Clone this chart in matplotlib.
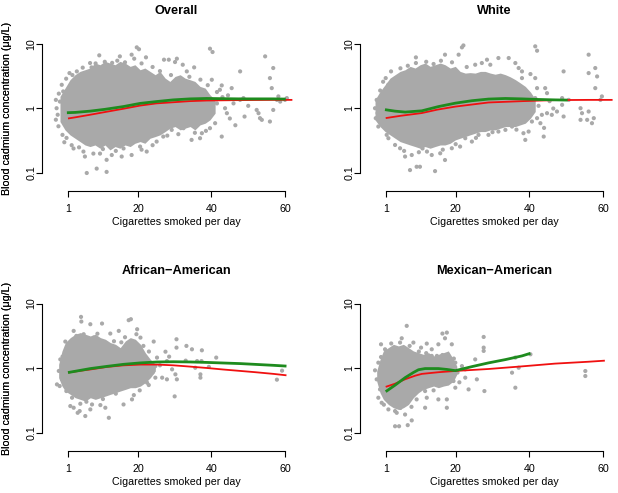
import matplotlib
matplotlib.use("Agg")
import matplotlib.pyplot as plt

plt.rcParams['font.family'] = ['Liberation Sans', 'DejaVu Sans']

# ---------------- data ----------------
panel_titles = ["Overall", "White", "African\u2212American", "Mexican\u2212American"]
x_label = "Cigarettes smoked per day"
y_label = "Blood cadmium concentration (\u03bcg/L)"
x_ticks = [1, 20, 40, 60]
y_ticks = [0.1, 1, 10]
y_tick_labels = ["0.1", "1", "10"]

# dense core of each point cloud (x, lower edge, upper edge)
overall_core_x = [-1.18, 0.18, 1.54, 2.9, 4.26, 5.62, 6.98, 8.34, 9.7, 11.06, 12.4, 13.8, 15.1, 16.5, 17.9, 19.2,
                  20.6, 21.9, 23.3, 24.7, 26.0, 27.4, 28.7, 30.1, 31.5, 32.8, 34.2, 35.5, 36.9, 38.3, 39.6, 41.0]
overall_core_hi = [1.54, 2.07, 2.79, 3.34, 3.76, 3.99, 4.24, 5.07, 4.77, 5.38, 5.07, 4.77, 5.38, 5.07, 4.5, 4.77,
                   3.99, 4.24, 3.76, 3.34, 3.76, 2.96, 2.63, 3.14, 3.34, 2.96, 2.79, 2.63, 2.2, 2.07, 1.63, 1.36]
overall_core_lo = [0.628, 0.466, 0.39, 0.346, 0.307, 0.272, 0.257, 0.272, 0.242, 0.272, 0.228, 0.257, 0.242, 0.272,
                   0.257, 0.289, 0.307, 0.289, 0.346, 0.367, 0.39, 0.439, 0.495, 0.525, 0.466, 0.495, 0.525, 0.466,
                   0.557, 0.592, 0.667, 0.846]

white_core_x = [-1.9, -0.54, 0.82, 2.18, 3.54, 4.9, 6.26, 7.62, 8.98, 10.34, 11.7, 13.06, 14.4, 15.8, 17.1, 18.5,
                19.9, 21.2, 22.6, 23.9, 25.3, 26.7, 28.0, 29.4, 30.7, 32.1, 33.5, 34.8, 36.2, 37.5, 38.9, 40.3, 41.6]
white_core_hi = [1.36, 1.84, 2.33, 2.96, 3.34, 3.76, 3.99, 4.5, 4.24, 4.77, 5.07, 4.5, 4.77, 5.07, 4.77, 4.24,
                 4.5, 3.76, 3.54, 3.6, 3.54, 3.76, 3.76, 3.54, 3.4, 3.54, 3.34, 3.1, 2.8, 2.5, 2.2, 1.8, 1.4]
white_core_lo = [0.667, 0.525, 0.439, 0.39, 0.346, 0.307, 0.289, 0.272, 0.257, 0.242, 0.257, 0.242, 0.257, 0.272,
                 0.272, 0.289, 0.326, 0.346, 0.367, 0.39, 0.414, 0.439, 0.439, 0.466, 0.466, 0.495, 0.525, 0.525,
                 0.525, 0.557, 0.592, 0.708, 0.898]

aa_core_x = [-1.54, -0.63, 0.27, 1.63, 2.99, 4.35, 5.71, 7.07, 8.43, 9.79, 11.15, 12.5, 13.9, 15.2, 16.6, 17.95,
             19.3, 20.7, 22.0, 23.4, 24.75]
aa_core_hi = [1.14, 1.84, 2.48, 2.96, 3.34, 3.54, 3.34, 3.14, 3.34, 2.96, 2.79, 2.48, 2.33, 2.07, 2.63, 2.96,
              2.79, 2.33, 1.73, 1.36, 1.14]
aa_core_lo = [0.708, 0.525, 0.439, 0.39, 0.346, 0.326, 0.307, 0.346, 0.326, 0.346, 0.367, 0.39, 0.414, 0.439,
              0.466, 0.495, 0.495, 0.525, 0.592, 0.708, 0.898]

ma_core_x = [-1.45, -0.54, 0.37, 1.73, 3.09, 4.45, 5.8, 7.17, 8.5, 9.9, 11.2, 12.6, 14.0, 15.3, 16.7, 18.0, 19.4, 20.3]
ma_core_hi = [0.898, 1.36, 1.84, 2.07, 2.33, 2.2, 2.33, 2.07, 1.84, 1.73, 1.63, 1.73, 1.54, 1.63, 1.73, 1.84, 1.36, 1.07]
ma_core_lo = [0.628, 0.414, 0.326, 0.272, 0.242, 0.228, 0.242, 0.272, 0.346, 0.414, 0.466, 0.495, 0.525, 0.495,
              0.525, 0.544, 0.628, 0.797]

# individual (sparser) points
overall_pts_x = [9.5, 7.0, 7.4, 15.1, 14.4, 18.3, 19.0, 19.7, 20.3, 22.2, 27.1, 28.4, 30.6, 30.1, 32.2, 33.3, 35.3,
                 39.6, 40.3, 40.1, 42.8, 42.3, 45.5, 47.8, 54.6, 56.8, 55.9, 56.4, 3.4, 1.4, -0.7, -0.3, -1.2, -2.3,
                 -2.1, -2.3, -1.6, -0.5, 0.6, 2.0, 2.5, 5.2, 5.6, 7.9, 6.1, 8.8, 11.5, 9.7, 11.5, 12.9, 15.6, 16.1,
                 18.3, 20.6, 22.4, 25.1, 26.9, 29.2, 32.4, 34.6, 36.9, 37.4, 39.6, 41.0, 42.8, 43.7, 44.2, 47.8, 48.7,
                 52.3, 52.8, 53.2, 53.7, 55.9, 56.8, 57.8, 58.2, 58.7, 60.0, 60.5,
                 44.5, 46.0, 45.0, 50.0, 41.5, 43.0, 49.0, 46.5, 38.5, 35.5, 31.0, 28.0, 24.0, 21.0, 14.0, 10.5, 4.0,
                 0.0, -1.8, -1.5, 0.5, 2.2, 5.0, 8.5, 11.0, 13.0, 16.5, 21.0, 24.0, 26.0, 29.0, 34.0, 37.0, 39.0, 41.5]
overall_pts_y = [6.67, 5.07, 4.34, 6.43, 5.51, 6.83, 5.92, 8.87, 8.3, 6.21, 5.71, 5.71, 5.92, 5.25, 4.77, 3.76, 4.34,
                 8.46, 7.51, 2.79, 2.28, 1.95, 2.07, 3.76, 6.43, 4.24, 2.96, 2.07, 3.76, 3.54, 2.33, 1.84, 1.28, 1.36,
                 1.01, 0.67, 0.53, 0.39, 0.35, 0.27, 0.24, 0.215, 0.18, 0.20, 0.10, 0.117, 0.104, 0.20, 0.16, 0.19, 0.18, 0.24,
                 0.19, 0.257, 0.215, 0.307, 0.367, 0.466, 0.495, 0.326, 0.346, 0.414, 0.495, 0.592, 0.367, 1.01, 0.846, 1.36, 1.45,
                 0.95, 0.846, 0.708, 0.667, 0.628, 0.95, 1.36, 1.54, 1.28, 1.36, 1.45,
                 1.6, 1.2, 0.7, 1.1, 1.2, 1.5, 0.75, 0.55, 0.45, 0.42, 0.40, 0.38, 0.27, 0.23, 0.22, 0.235, 0.25,
                 0.30, 0.8, 1.7, 2.9, 3.3, 4.3, 5.0, 5.3, 5.1, 5.2, 5.0, 4.4, 3.8, 3.3, 3.1, 2.8, 2.3, 1.8]

white_pts_x = [21.7, 22.1, 17.1, 20.8, 9.2, 9.2, 2.45, 1.0, 1.7, -1.45, -1.9, -1.7, -1.0, 1.27,
               1.73, 3.54, 4.9, 6.26, 8.07, 7.6, 9.4, 10.3, 14.4, 12.2, 13.5, 15.8, 17.1, 18.95, 21.2, 22.6, 24.4,
               26.2, 28.9, 31.6, 33.5, 35.3, 38.4, 39.8, 38.9, 40.7, 42.1, 43.4, 44.8, 46.1, 47.5, 48.9, 49.3, 43.0,
               43.9, 41.6, 42.1, 44.3, 44.8, 38.0, 40.3, 41.6, 31.6, 34.4, 36.2, 37.1, 38.0, 29.4, 27.1, 25.3, 28.5,
               41.6, 42.1, 49.3, 56.1, 56.1, 57.9, 58.4, 57.9, 59.7, 59.3, 53.9, 54.3, 56.1, 53.9, 55.7, 57.0, 57.5,
               50.7, 48.9,
               5.0, 7.0, 12.0, 14.0, 16.0, 19.0, 23.0, 6.0, 10.0, 11.0, 16.5, 20.0, 25.5, 30.0, 36.5, 42.5, 45.5,
               46.5, 44.0, -0.5, 0.3, -1.2]
white_pts_y = [8.87, 9.5, 6.83, 6.83, 6.2, 5.07, 3.76, 2.96, 2.33, 1.36, 1.01, 0.708, 0.525, 0.39,
               0.346, 0.272, 0.242, 0.18, 0.19, 0.111, 0.125, 0.125, 0.107, 0.215, 0.19, 0.202, 0.159, 0.242, 0.257, 0.346, 0.307,
               0.39, 0.39, 0.439, 0.466, 0.525, 0.414, 0.439, 0.326, 0.628, 0.708, 0.797, 0.846, 0.797, 0.898, 1.14, 0.751, 0.592,
               0.367, 1.45, 2.07, 2.07, 1.73, 2.96, 3.42, 2.96, 6.06, 6.06, 5.07, 4.24, 3.76, 4.77, 5.07, 4.77, 5.71,
               9.2, 7.87, 3.76, 6.83, 3.54, 4.24, 3.14, 2.07, 1.54, 1.36, 1.01, 0.846, 0.898, 0.667, 0.667, 0.592, 0.708,
               1.36, 1.45,
               4.2, 4.6, 5.3, 4.9, 5.5, 5.2, 4.4, 0.22, 0.21, 0.24, 0.23, 0.28, 0.35, 0.43, 0.47, 1.1, 1.3,
               1.0, 0.5, 1.9, 2.6, 0.85]

aa_pts_x = [4.54, 4.63, 7.07, 10.25, 17.5, 18.1, 2.54, 3.27, 5.26, 7.98, 12.5, 14.8, 19.8, 19.6, 20.7, 24.3, 30.5,
            30.5, 33.2, 34.7, 37.4, 41.3, 36.1, 37.3, 27.5, 27.9, 25.2, 24.75, 26.6, 27.9, 29.3, 30.6, 30.2, 35.6,
            37.0, 37.0, 39.3, 30.0, 12.1, 5.7, 3.63, 4.17, 2.54, 1.63, 7.07, 7.53, 4.35, 9.8, 11.15, 16.1, 18.4,
            18.9, 22.5, 22.96, 24.75, -1.27, -2.0, -0.63, -1.09, 0.27, 0.73, 57.8, 59.2, 0.55, 2.1,
            9.0, 13.5, 15.5, 16.5, 21.5, 23.0, 21.0, 26.0, 28.5, 33.0, 24.0, 20.5, 14.0, 10.5, 6.0, -0.5, -1.5]
aa_pts_y = [6.2, 5.25, 4.77, 4.89, 5.51, 5.71, 3.76, 3.14, 3.34, 2.96, 3.42, 3.76, 3.99, 3.34, 2.96, 2.57, 2.79,
            2.07, 2.2, 1.95, 1.88, 1.45, 1.28, 1.28, 1.79, 1.28, 1.45, 0.708, 0.708, 0.667, 0.953, 0.667, 0.797, 1.01,
            0.797, 0.708, 1.04, 0.363, 0.169, 0.18, 0.202, 0.215, 0.242, 0.257, 0.228, 0.272, 0.279, 0.266, 0.242, 0.272, 0.326,
            0.38, 0.592, 0.544, 1.07, 0.525, 0.557, 0.667, 1.36, 2.57, 1.95, 0.659, 0.909, 0.439, 0.346,
            3.4, 2.6, 2.5, 3.0, 2.2, 1.8, 1.4, 1.1, 1.5, 1.3, 0.85, 0.45, 0.40, 0.33, 0.30, 1.5, 0.9]

ma_pts_x = [6.71, 5.35, 4.9, -0.27, 0.82, 8.52, 10.6, 12.15, 13.5, 15.3, 16.4, 17.6, 17.1, 18.95, 14.9, 16.4, 18.0,
            13.5, 27.6, 27.6, 27.6, 25.3, 22.6, 22.6, 19.9, 21.7, 25.75, 27.8, 23.5, 36.2, 35.3, 37.1, 36.2, 40.3,
            55.2, 55.2, -1.0, -0.54, -0.09, 1.73, 3.54, 3.99, 6.26, 3.54, 4.63, 6.98, 8.07, 11.7, 12.15, 17.6, 17.6,
            19.9, 19.4, 15.3, 9.4, 11.7, -1.45, -1.9, -1.0, -0.27,
            2.5, 7.5, 10.0, 12.0, 19.5, 20.5, 21.0, 14.0, 8.0, 5.0, 0.5]
ma_pts_y = [4.5, 2.89, 2.48, 2.33, 1.95, 2.48, 2.07, 2.39, 1.95, 2.33, 3.42, 3.54, 2.89, 2.33, 1.54, 1.59, 1.54,
            1.54, 3.03, 2.07, 1.84, 1.36, 0.953, 0.708, 1.21, 1.07, 0.667, 0.439, 0.466, 0.495, 0.846, 1.01, 1.45, 1.63,
            0.898, 0.751, 0.346, 0.466, 0.289, 0.228, 0.215, 0.202, 0.19, 0.125, 0.125, 0.13, 0.154, 0.242, 0.346, 0.242, 0.326,
            0.495, 0.628, 0.326, 0.326, 0.439, 0.667, 0.92, 1.21, 1.48,
            2.4, 2.2, 1.8, 1.7, 1.4, 0.85, 0.6, 0.45, 0.25, 0.24, 0.27]

# fitted curves
overall_red_x = [1, 3, 7, 11, 16, 20.6, 25, 29.6, 34, 38.7, 48, 57, 62]
overall_red_y = [0.70, 0.73, 0.80, 0.88, 0.99, 1.11, 1.20, 1.25, 1.30, 1.33, 1.35, 1.36, 1.36]
overall_green_x = [0.7, 3, 7, 11, 16, 20.6, 25, 29.6, 34.2, 38.7, 47.8, 56.8, 60.2]
overall_green_y = [0.86, 0.87, 0.91, 0.97, 1.07, 1.20, 1.28, 1.36, 1.41, 1.43, 1.41, 1.41, 1.40]

white_red_x = [1, 5, 10.8, 15, 19.9, 28.9, 38, 47, 56, 62.6]
white_red_y = [0.71, 0.77, 0.85, 0.96, 1.07, 1.24, 1.30, 1.35, 1.36, 1.36]
white_green_x = [0.8, 3.5, 6.3, 10.8, 15.3, 19.9, 24.4, 28.9, 33.5, 38, 42.5, 47, 50.4]
white_green_y = [0.96, 0.91, 0.88, 0.92, 1.07, 1.21, 1.32, 1.40, 1.43, 1.41, 1.38, 1.36, 1.35]

aa_red_x = [1, 4, 7.1, 11.6, 16.1, 20.7, 25.2, 29.7, 34.3, 38.8, 43, 47.9, 52, 56.9, 60.4]
aa_red_y = [0.85, 0.90, 0.95, 1.04, 1.10, 1.13, 1.13, 1.10, 1.05, 1.00, 0.95, 0.90, 0.86, 0.81, 0.77]
aa_green_x = [1, 7.1, 11.6, 16.1, 20.7, 25.2, 29.7, 34.3, 38.8, 47.9, 56.9, 60.4]
aa_green_y = [0.85, 0.98, 1.06, 1.14, 1.20, 1.24, 1.25, 1.24, 1.22, 1.17, 1.10, 1.07]

ma_red_x = [1, 3.5, 6.3, 9.0, 10.8, 15.3, 19.9, 28.9, 38, 47, 56, 60.5]
ma_red_y = [0.51, 0.57, 0.67, 0.76, 0.81, 0.86, 0.90, 0.965, 1.06, 1.17, 1.25, 1.30]
ma_green_x = [1, 3.5, 6.3, 8.5, 9.9, 11.7, 15.3, 17.6, 19.9, 24.4, 28.9, 33.5, 38, 40.3]
ma_green_y = [0.43, 0.54, 0.71, 0.85, 0.94, 0.98, 0.98, 0.95, 0.91, 1.05, 1.20, 1.35, 1.54, 1.69]

cores = [(overall_core_x, overall_core_lo, overall_core_hi), (white_core_x, white_core_lo, white_core_hi),
         (aa_core_x, aa_core_lo, aa_core_hi), (ma_core_x, ma_core_lo, ma_core_hi)]
points = [(overall_pts_x, overall_pts_y), (white_pts_x, white_pts_y), (aa_pts_x, aa_pts_y), (ma_pts_x, ma_pts_y)]
reds = [(overall_red_x, overall_red_y), (white_red_x, white_red_y), (aa_red_x, aa_red_y), (ma_red_x, ma_red_y)]
greens = [(overall_green_x, overall_green_y), (white_green_x, white_green_y), (aa_green_x, aa_green_y), (ma_green_x, ma_green_y)]

# ---------------- layout (pixels) ----------------
W, H, DPI = 618, 493, 100
col_left = [42.0, 360.0]          # y-axis line
col_x1 = [68.0, 385.7]            # position of x = 1
col_x60 = [285.0, 603.0]          # position of x = 60
row_y10 = [44.0, 303.5]           # position of y = 10
row_y01 = [173.0, 432.5]          # position of y = 0.1
row_xaxis = [191.0, 451.0]        # x-axis line
LOG_TOP, LOG_BOT = 1.1, -1.2
X_MAX = 63.0

GRAY = "#A9A9A9"
RED = "#F01010"
GREEN = "#1E8B1E"
FS = 7.7

fig = plt.figure(figsize=(W / DPI, H / DPI), dpi=DPI)

for i in range(4):
    r, c = divmod(i, 2)
    ppu = (col_x60[c] - col_x1[c]) / 59.0
    xmin = 1 - (col_x1[c] - col_left[c]) / ppu
    right_px = col_x1[c] + (X_MAX - 1) * ppu
    dec = (row_y01[r] - row_y10[r]) / 2.0
    top_px = row_y10[r] - (LOG_TOP - 1) * dec
    bot_px = row_y01[r] + (-1 - LOG_BOT) * dec
    ax_w = right_px - col_left[c]
    ax_h = bot_px - top_px
    ax = fig.add_axes([col_left[c] / W, (H - bot_px) / H, ax_w / W, ax_h / H])
    ax.set_xlim(xmin, X_MAX)
    ax.set_yscale("log")
    ax.set_ylim(10 ** LOG_BOT, 10 ** LOG_TOP)

    cx, clo, chi = cores[i]
    ax.fill_between(cx, clo, chi, color=GRAY, lw=0)
    px, py = points[i]
    ax.scatter(px, py, s=9, c=GRAY, edgecolors="none")
    ax.plot(*reds[i], color=RED, lw=1.3, solid_capstyle="butt")
    ax.plot(*greens[i], color=GREEN, lw=2.0, solid_capstyle="butt")

    for s in ("top", "right"):
        ax.spines[s].set_visible(False)
    ax.spines["left"].set_bounds(0.1, 10)
    ax.spines["bottom"].set_bounds(1, 60)
    ax.spines["bottom"].set_position(("outward", (row_xaxis[r] - bot_px) * 72 / DPI))
    for s in ("left", "bottom"):
        ax.spines[s].set_linewidth(0.8)

    ax.set_xticks(x_ticks)
    ax.set_xticklabels([str(t) for t in x_ticks])
    ax.set_yticks(y_ticks)
    ax.set_yticklabels(y_tick_labels)
    ax.minorticks_off()
    ax.tick_params(axis="both", length=4.1, width=0.8, labelsize=FS, color="black")
    ax.tick_params(axis="x", pad=5.0)
    ax.tick_params(axis="y", pad=0.0)
    for lab in ax.get_yticklabels():
        lab.set_rotation(90)
        lab.set_verticalalignment("center")

    mid_frac = (30.5 - xmin) / (X_MAX - xmin)
    ax.set_title(panel_titles[i], fontsize=9.2, fontweight="bold", x=mid_frac,
                 pad=(top_px - (row_y10[r] - 29.5)) * 72 / DPI)
    ax.set_xlabel(x_label, fontsize=FS)
    ax.xaxis.set_label_coords(mid_frac, -(row_xaxis[r] + 26.0 - bot_px) / ax_h)
    ax.set_ylabel(y_label, fontsize=FS)
    ax.yaxis.set_label_coords((12.5 - col_left[c]) / ax_w, (0 - LOG_BOT) / (LOG_TOP - LOG_BOT))

fig.savefig("out.png", dpi=DPI)
